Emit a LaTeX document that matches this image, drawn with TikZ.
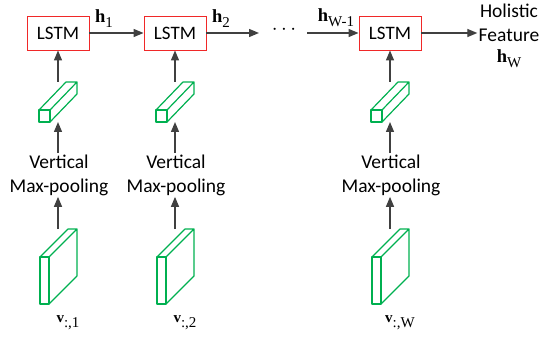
\documentclass[tikz,border=0pt]{standalone}
\usepackage{fontspec}
\setmainfont{Carlito}
\newfontfamily\symfont{Liberation Serif}
\newcommand{\lowidx}[1]{\raisebox{-5pt}{\fontsize{15}{15}\selectfont #1}}
\usetikzlibrary{arrows.meta}
\definecolor{boxgreen}{RGB}{0,176,80}
\definecolor{flowgray}{RGB}{64,64,64}
\definecolor{boxred}{RGB}{240,40,40}

\begin{document}
\begin{tikzpicture}[x=1pt, y=-1pt, thick]
    \tikzset{
      lstm/.style={draw=boxred, line width=0.9pt, minimum width=62pt, minimum height=34pt,
        inner sep=0pt, font=\fontsize{19}{24}\selectfont},
      flow/.style={draw=flowgray, line width=1.3pt, -{Triangle[length=10pt,width=8pt]}},
      cube/.style={draw=boxgreen, line width=1.2pt, line join=round},
      caption/.style={align=center, inner sep=1pt, font=\fontsize{19.5}{24}\selectfont},
      sym/.style={inner sep=1pt, font=\symfont\fontsize{18.5}{20}\selectfont},
      vsym/.style={inner sep=1pt, font=\symfont\fontsize{15}{16}\selectfont},
    }
    \useasboundingbox (0,0) rectangle (540,339);

    \foreach \x/\n/\s in {58/1/1, 175/2/2, 390/3/W} {
      \node [lstm] (lstm\n) at (\x,33) {LSTM};
      % pooled column
      \draw [cube] (\x-19,110) rectangle (\x-8,122);
      \draw [cube] (\x-19,110) -- ++(27,-28) -- ++(11,0) -- (\x-8,110)
                   (\x-8,122) -- ++(27,-28) -- ++(0,-12);
      % feature slab
      \draw [cube] (\x-18,257) rectangle (\x-9,304);
      \draw [cube] (\x-18,257) -- ++(28,-28) -- ++(9,0) -- (\x-9,257)
                   (\x-9,304) -- ++(28,-28) -- ++(0,-47);
      \coordinate (barhi\n) at (\x,82);
      \coordinate (barlo\n) at (\x,122);
      \coordinate (slab\n) at (\x,229);
      \node [caption] (pool\n) at (\x+1,175) {Vertical\\Max-pooling};
      \node [vsym] (v\n) at (\x+10,323) {\textbf{v}\lowidx{:,\s}};

      \draw [flow] (slab\n) -- (slab\n |- pool\n.south);
      \draw [flow] (barlo\n |- pool\n.north) -- (barlo\n);
      \draw [flow] (barhi\n) -- (lstm\n);
    }

    \coordinate (gapin) at (259,33);
    \coordinate (gapout) at (307,33);
    \node [font=\fontsize{20}{20}\selectfont] (dots) at (284,30) {$\cdots$};
    \node [sym] (h1) at (104,19) {\textbf{h}\lowidx{1}};
    \node [sym] (h2) at (221,19) {\textbf{h}\lowidx{2}};
    \node [sym] (hw1) at (336,18) {\textbf{h}\lowidx{W-1}};
    \node [caption] (feat) at (509,36)
      {Holistic\\Feature\\[-3pt]{\symfont\fontsize{18.5}{20}\selectfont\textbf{h}\lowidx{W}}};

    \draw [flow] (lstm1) -- (lstm2);
    \draw [flow] (lstm2) -- (gapin);
    \draw [flow] (gapout) -- (lstm3);
    \draw [flow] (lstm3) -- (lstm3 -| feat.west);
\end{tikzpicture}
\end{document}
